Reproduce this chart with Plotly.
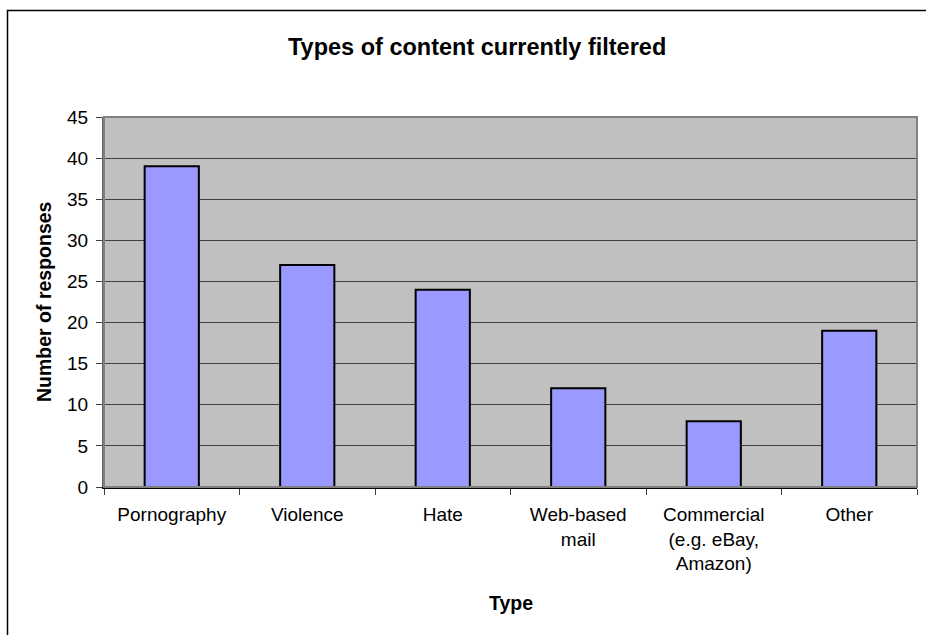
import plotly.graph_objects as go

# Survey results: how many respondents filter each type of content
categories = ["Pornography", "Violence", "Hate", "Web-based<br>mail",
              "Commercial<br>(e.g. eBay,<br>Amazon)", "Other"]
responses = [39, 27, 24, 12, 8, 19]
y_ticks = [0, 5, 10, 15, 20, 25, 30, 35, 40, 45]

title_text = "Types of content currently filtered"
x_title = "Type"
y_title = "Number of responses"

W, H = 926, 635
L, R, T, B = 104, 9, 117, 148
pw, ph = W - L - R, H - T - B


def px_x(p):
    return (p - L) / pw


def px_y(p):
    return (H - B - p) / ph


FONT = "Liberation Sans, Arial, sans-serif"

fig = go.Figure(
    go.Bar(
        x=categories,
        y=responses,
        width=0.4,
        marker=dict(color="#9999FF", line=dict(color="#000000", width=2)),
        hoverinfo="x+y",
    )
)

fig.update_layout(
    width=W,
    height=H,
    margin=dict(l=L, r=R, t=T, b=B, pad=0),
    paper_bgcolor="#FFFFFF",
    plot_bgcolor="#C0C0C0",
    showlegend=False,
    font=dict(family=FONT, color="#000000", size=19),
    xaxis=dict(
        type="category",
        tickson="boundaries",
        ticks="outside",
        ticklen=6,
        tickcolor="#404040",
        ticklabelstandoff=9,
        showline=True,
        linecolor="#000000",
        linewidth=2,
        showgrid=False,
        tickfont=dict(size=19),
    ),
    yaxis=dict(
        range=[0, 45],
        tickvals=y_ticks,
        ticks="outside",
        ticklen=6,
        tickcolor="#404040",
        ticklabelstandoff=4,
        showline=True,
        linecolor="#606060",
        linewidth=2,
        showgrid=True,
        gridcolor="#404040",
        gridwidth=1,
        zeroline=False,
        tickfont=dict(size=19),
    ),
    shapes=[
        # plot-area border (top and right edges)
        dict(type="rect", xref="paper", yref="paper", x0=0, y0=0, x1=1, y1=1,
             line=dict(color="#808080", width=2), layer="above"),
        # chart-area frame, running past the right and bottom edges
        dict(type="rect", xref="paper", yref="paper",
             x0=px_x(7.5), y0=px_y(700), x1=px_x(1100), y1=px_y(10.5),
             line=dict(color="#000000", width=1.5)),
    ],
    annotations=[
        dict(text=f"<b>{title_text}</b>", xref="paper", yref="paper",
             x=px_x(476.5), y=px_y(47), xanchor="center", yanchor="middle",
             showarrow=False, font=dict(size=23.5)),
        dict(text=f"<b>{y_title}</b>", xref="paper", yref="paper",
             x=px_x(44), y=px_y(302), xanchor="center", yanchor="middle",
             textangle=-90, showarrow=False, font=dict(size=19.5)),
        dict(text=f"<b>{x_title}</b>", xref="paper", yref="paper",
             x=px_x(510.5), y=px_y(603), xanchor="center", yanchor="middle",
             showarrow=False, font=dict(size=19.5)),
    ],
)

fig.write_html("out.html")
